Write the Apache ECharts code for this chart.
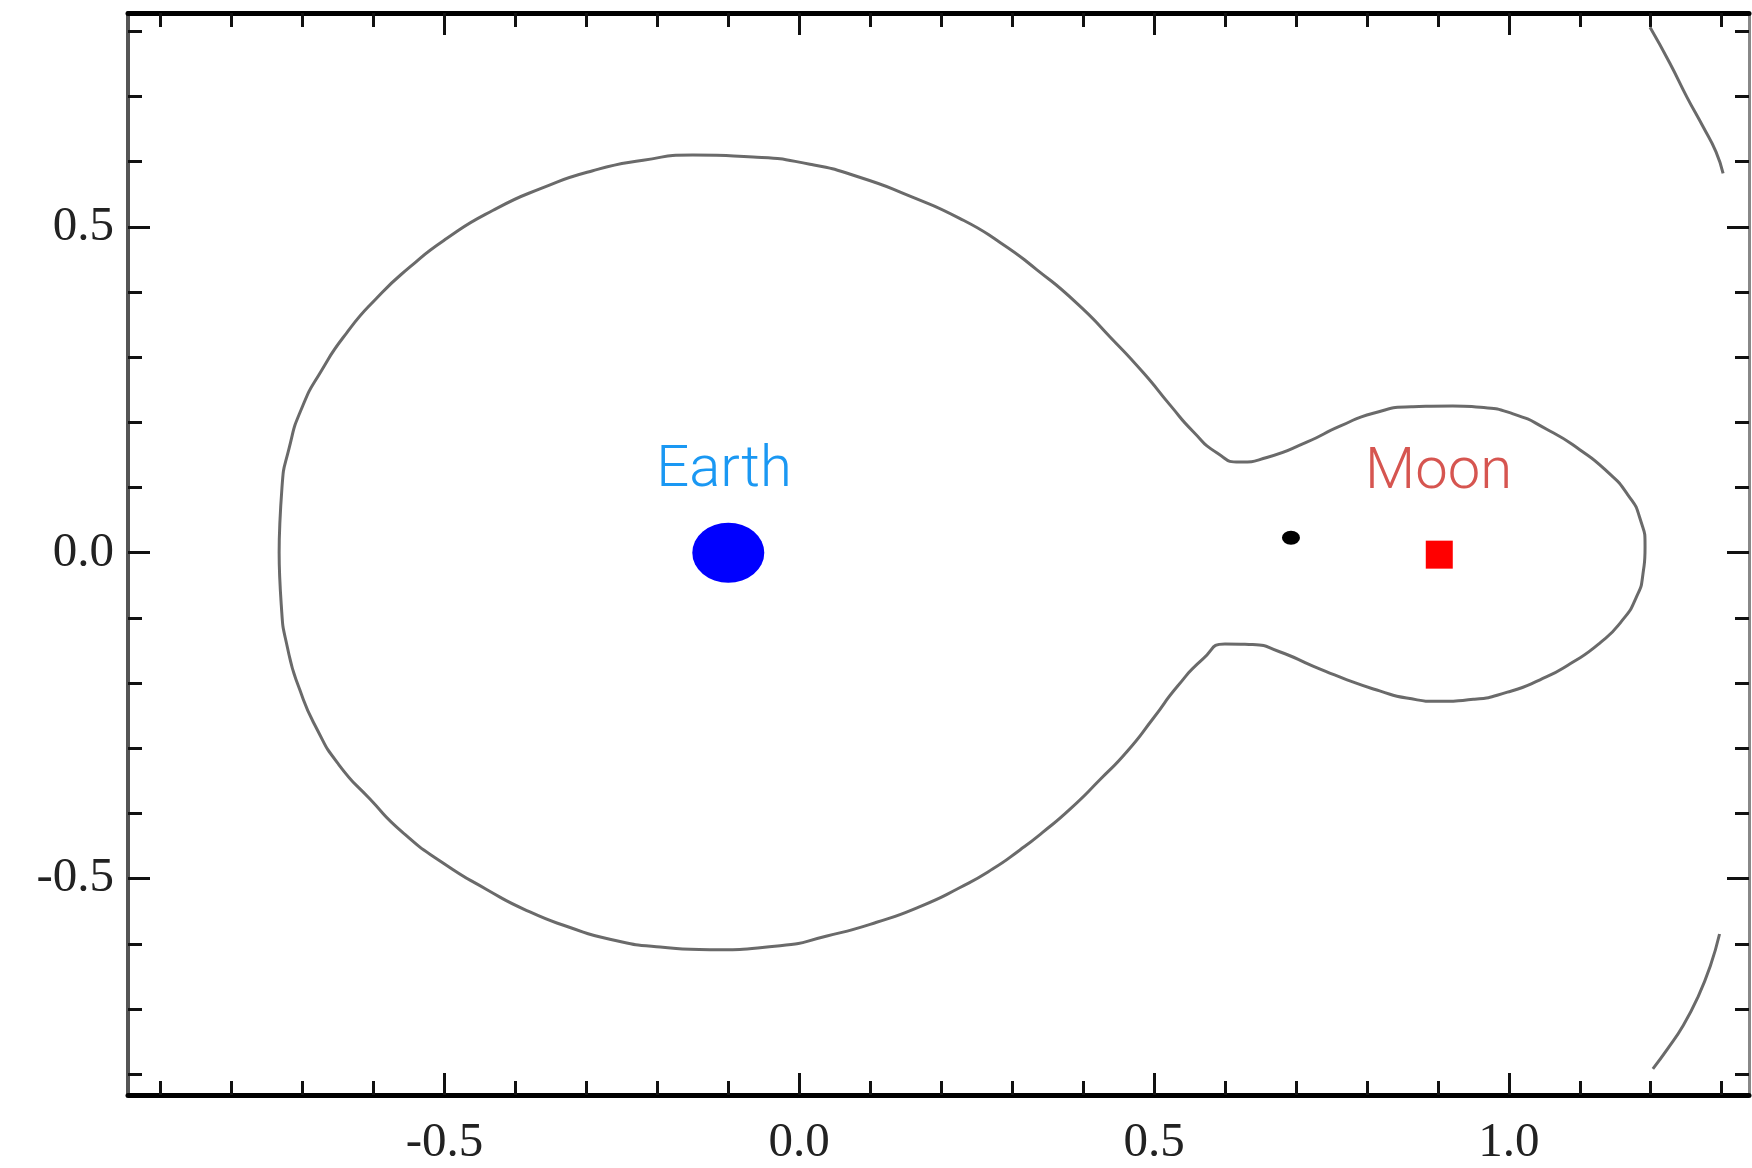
<!DOCTYPE html>
<html>
<head>
<meta charset="utf-8">
<script src="https://cdn.jsdelivr.net/npm/echarts@6/dist/echarts.min.js"></script>
<style>
html,body{margin:0;padding:0;background:#fff;}
#chart{width:1752px;height:1168px;}
</style>
</head>
<body>
<div id="chart"></div>
<script>
// ---- data ----
const xTicks = [-0.9,-0.8,-0.7,-0.6,-0.5,-0.4,-0.3,-0.2,-0.1,0,0.1,0.2,0.3,0.4,0.5,0.6,0.7,0.8,0.9,1.0,1.1,1.2,1.3];
const xMajorTicks = [-0.5, 0, 0.5, 1.0];
const yTicks = [-0.8,-0.7,-0.6,-0.5,-0.4,-0.3,-0.2,-0.1,0,0.1,0.2,0.3,0.4,0.5,0.6,0.7,0.8];
const yMajorTicks = [-0.5, 0, 0.5];

// zero-velocity curve, upper half (left -> right)
const upperArc = [
  [-0.733,0],[-0.729,0.100],[-0.719,0.160],[-0.701,0.222],[-0.673,0.280],[-0.638,0.337],
  [-0.596,0.390],[-0.549,0.438],[-0.497,0.482],[-0.432,0.525],[-0.361,0.560],[-0.291,0.586],
  [-0.220,0.602],[-0.150,0.610],[-0.065,0.607],[0.015,0.596],[0.085,0.576],[0.156,0.547],
  [0.226,0.513],[0.283,0.476],[0.335,0.434],[0.391,0.383],[0.438,0.331],[0.485,0.276],
  [0.523,0.226],[0.555,0.186],[0.589,0.153],[0.621,0.139],[0.659,0.146],[0.716,0.170],
  [0.762,0.194],[0.809,0.214],[0.865,0.224],[0.921,0.225],[0.960,0.223],[1.006,0.213],
  [1.054,0.189],[1.100,0.158],[1.138,0.125],[1.167,0.090],[1.185,0.052],[1.192,0.009]
];
// lower half (right -> left)
const lowerArc = [
  [1.189,-0.033],[1.179,-0.070],[1.159,-0.105],[1.129,-0.138],[1.087,-0.170],[1.044,-0.195],
  [0.998,-0.214],[0.950,-0.225],[0.903,-0.228],[0.856,-0.223],[0.818,-0.212],[0.772,-0.195],
  [0.724,-0.174],[0.677,-0.152],[0.639,-0.141],[0.600,-0.140],[0.569,-0.163],[0.533,-0.205],
  [0.499,-0.254],[0.462,-0.305],[0.424,-0.348],[0.382,-0.393],[0.343,-0.429],[0.311,-0.456],
  [0.273,-0.485],[0.226,-0.514],[0.170,-0.543],[0.109,-0.567],[0.039,-0.588],[-0.027,-0.603],
  [-0.126,-0.609],[-0.196,-0.605],[-0.267,-0.593],[-0.323,-0.575],[-0.384,-0.549],[-0.440,-0.517],
  [-0.502,-0.476],[-0.559,-0.429],[-0.605,-0.378],[-0.649,-0.325],[-0.680,-0.270],[-0.704,-0.210],
  [-0.721,-0.147],[-0.730,-0.080],[-0.733,0]
];
const outerTopArc = [[1.199,0.806],[1.227,0.751],[1.251,0.699],[1.274,0.653],[1.292,0.615],[1.302,0.582]];
const outerBottomArc = [[1.297,-0.585],[1.284,-0.634],[1.266,-0.683],[1.246,-0.725],[1.224,-0.761],[1.203,-0.792]];

const earthPos = [-0.1, 0];
const moonPos = [0.902, -0.003];
const probePos = [0.693, 0.023];
const bodyLabels = [
  {name: 'Earth', value: [-0.106, 0.124], color: '#1a98f3'},
  {name: 'Moon',  value: [0.901, 0.121],  color: '#d65550'}
];

// ---- chart ----
const X_MIN = -0.946, X_MAX = 1.3385, Y_MIN = -0.832, Y_MAX = 0.828;
const tickStyle = {color: '#111', width: 3};
const labelFont = {fontFamily: '"Liberation Serif", serif', fontSize: 49, color: '#222'};

function xAx(pos, major) {
  return {
    type: 'value', position: pos, min: X_MIN, max: X_MAX,
    axisLine: major ? {show: false, onZero: false} : {show: true, onZero: false, lineStyle: {color: '#000', width: 5}},
    axisTick: {show: true, inside: true, length: major ? 22 : 14, customValues: major ? xMajorTicks : xTicks, lineStyle: tickStyle},
    axisLabel: (pos === 'bottom' && !major) ? Object.assign({show: true, customValues: xMajorTicks, margin: 24,
      formatter: v => v.toFixed(1)}, labelFont) : {show: false},
    splitLine: {show: false}
  };
}
function yAx(pos, major) {
  return {
    type: 'value', position: pos, min: Y_MIN, max: Y_MAX,
    axisLine: major ? {show: false, onZero: false} : {show: true, onZero: false, lineStyle: {color: pos === 'left' ? '#555' : '#888', width: pos === 'left' ? 4 : 3}},
    axisTick: {show: true, inside: true, length: major ? 22 : 14, customValues: major ? yMajorTicks : yTicks, lineStyle: tickStyle},
    axisLabel: (pos === 'left' && !major) ? Object.assign({show: true, customValues: yMajorTicks, margin: 14,
      formatter: v => v.toFixed(1)}, labelFont) : {show: false},
    splitLine: {show: false}
  };
}

const curveStyle = {color: '#6a6a6a', width: 3};
const chart = echarts.init(document.getElementById('chart'), null, {renderer: 'canvas'});
chart.setOption({
  animation: false,
  backgroundColor: '#fff',
  grid: {left: 128, right: 3, top: 13, bottom: 72, containLabel: false},
  xAxis: [xAx('bottom', false), xAx('top', false), xAx('bottom', true), xAx('top', true)],
  yAxis: [yAx('left', false), yAx('right', false), yAx('left', true), yAx('right', true)],
  series: [
    {type: 'line', data: upperArc.concat(lowerArc), showSymbol: false, smooth: 0.6, lineStyle: curveStyle, z: 3},
    {type: 'line', data: outerTopArc, showSymbol: false, smooth: 0.5, lineStyle: curveStyle, z: 3},
    {type: 'line', data: outerBottomArc, showSymbol: false, smooth: 0.5, lineStyle: curveStyle, z: 3},
    {type: 'scatter', data: [earthPos], symbol: 'circle', symbolSize: [72, 60], itemStyle: {color: '#0000ff', opacity: 1}, z: 5},
    {type: 'scatter', data: [moonPos], symbol: 'rect', symbolSize: [27, 28], itemStyle: {color: '#ff0000', opacity: 1}, z: 5},
    {type: 'scatter', data: [probePos], symbol: 'circle', symbolSize: [18, 14], itemStyle: {color: '#000', opacity: 1}, z: 5},
    {type: 'scatter', symbolSize: 1, itemStyle: {color: 'rgba(0,0,0,0)', opacity: 1}, z: 6,
      data: bodyLabels.map(d => ({name: d.name, value: d.value,
        label: {show: true, position: 'inside', formatter: '{b}', color: d.color, opacity: 1,
          fontFamily: 'Roboto', fontWeight: 300, fontSize: 58}}))}
  ]
});
</script>
</body>
</html>
